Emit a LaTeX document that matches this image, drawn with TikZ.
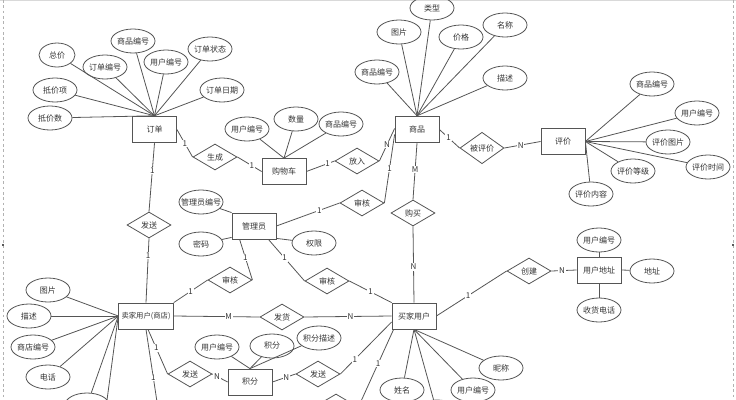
\documentclass[tikz,border=0pt]{standalone}
\usepackage{fontspec}
\setmainfont{Noto Sans CJK SC}
\usetikzlibrary{shapes.geometric,calc}
\definecolor{ln}{HTML}{555555}
\definecolor{tx}{HTML}{333333}
\begin{document}
\begin{tikzpicture}[x=0.75pt,y=-0.75pt,
  every node/.style={font=\fontsize{6}{7}\selectfont, text=tx},
  ent/.style={rectangle, draw=ln, line width=0.6pt, minimum width=33pt, minimum height=19.5pt, inner sep=1pt},
  rel/.style={diamond, draw=ln, line width=0.6pt, minimum width=33pt, minimum height=19.5pt, inner sep=0pt},
  attr/.style={ellipse, draw=ln, line width=0.6pt, minimum width=33pt, minimum height=18pt, inner xsep=-6pt, inner ysep=0pt},
  conn/.style={draw=ln, line width=0.6pt},
  lbl/.style={fill=white, inner sep=0.6pt}]
\useasboundingbox (0,0) rectangle (736,400);
% frame marks
\draw[gray!30] (0,0.5) -- (736,0.5);
\draw[gray!60, dash pattern=on 2pt off 2pt] (3,0) -- (3,400);
\draw[gray!60, dash pattern=on 2pt off 2pt] (733,0) -- (733,400);
\fill[gray!70!black] (2,244) rectangle (4,246);
\fill[gray!70!black] (732,244) rectangle (734,246);

% entities
\node[ent, minimum height=20pt] (dd) at (154.5,129.5) {订单};
\node[ent] (gwc) at (284,171.5) {购物车};
\node[ent, minimum height=20pt] (sp) at (417,129.5) {商品};
\node[ent, minimum height=20pt] (pj) at (563,141.5) {评价};
\node[ent] (gly) at (254,226) {管理员};
\node[ent, minimum width=41pt, inner sep=0pt, font=\fontsize{5.5}{7}\selectfont] (mj) at (146,316) {卖家用户(商店)};
\node[ent] (bj) at (414,316) {买家用户};
\node[ent] (dz) at (599,270) {用户地址};
\node[ent] (jf) at (250,382) {积分};

% relationships
\node[rel] (r1) at (215,157) {生成};
\node[rel] (r2) at (357,161) {放入};
\node[rel] (r3) at (362,203) {审核};
\node[rel] (r4) at (413,213) {购买};
\node[rel] (r5) at (482,148) {被评价};
\node[rel] (r6) at (149,225) {发送};
\node[rel] (r7) at (230,280) {审核};
\node[rel] (r8) at (327,281) {审核};
\node[rel] (r9) at (282,317) {发货};
\node[rel] (r10) at (190,374) {发送};
\node[rel] (r11) at (318,374) {发送};
\node[rel] (r12) at (529,271) {创建};
\node[rel] (r13) at (336,407) {};

% attributes of 订单
\node[attr, minimum width=27pt] (a1) at (57,55) {总价};
\node[attr] (a2) at (133,41) {商品编号};
\node[attr] (a3) at (105,67) {订单编号};
\node[attr] (a4) at (166,62) {用户编号};
\node[attr] (a5) at (210,49) {订单状态};
\node[attr] (a6) at (55,90) {抵价项};
\node[attr] (a7) at (222,90) {订单日期};
\node[attr] (a8) at (50,118) {抵价数};
\foreach \a in {a1,a2,a3,a4,a5,a6,a7,a8} \draw[conn] (\a) -- (dd.north);

% attributes of 购物车
\node[attr] (b1) at (247,129) {用户编号};
\node[attr] (b2) at (296,119) {数量};
\node[attr] (b3) at (341,124) {商品编号};
\foreach \a in {b1,b2,b3} \draw[conn] (\a) -- (gwc.north);

% attributes of 商品
\node[attr] (c1) at (432,8) {类型};
\node[attr] (c2) at (399,32) {图片};
\node[attr] (c3) at (461,37) {价格};
\node[attr] (c4) at (505,25) {名称};
\node[attr] (c5) at (377,72) {商品编号};
\node[attr] (c6) at (505,78) {描述};
\foreach \a in {c1,c2,c3,c4,c5,c6} \draw[conn] (\a) -- (sp.north);

% attributes of 评价
\node[attr] (d1) at (652,84) {商品编号};
\node[attr] (d2) at (697,113) {用户编号};
\node[attr] (d3) at (668,142) {评价图片};
\node[attr] (d4) at (708,167) {评价时间};
\node[attr] (d5) at (633,171) {评价等级};
\node[attr] (d6) at (591,194) {评价内容};
\foreach \a in {d1,d2,d3,d4,d5,d6} \draw[conn] (\a) -- (pj.east);

% attributes of 管理员
\node[attr] (e1) at (201,202) {管理员编号};
\node[attr] (e2) at (201,244) {密码};
\node[attr] (e3) at (314,243) {权限};
\draw[conn] (e1) -- (gly.north west);
\draw[conn] (e2) -- ($(gly.south west)+(0,-2)$);
\draw[conn] (e3) -- ($(gly.south east)+(0,-1)$);

% attributes of 卖家用户
\node[attr] (f1) at (48,290) {图片};
\node[attr] (f2) at (29,316) {描述};
\node[attr] (f3) at (33,347) {商店编号};
\node[attr] (f4) at (48,377) {电话};
\node[attr] (f5) at (87,405) {};
\coordinate (f6) at (105,415);
\foreach \a in {f1,f2,f3,f4,f5,f6} \draw[conn] (\a) -- (mj.west);

% attributes of 积分
\node[attr] (g1) at (217,347) {用户编号};
\node[attr] (g2) at (272,346) {积分};
\node[attr] (g3) at (319,338) {积分描述};
\foreach \a in {g1,g2,g3} \draw[conn] (\a) -- (jf.north);

% attributes of 买家用户
\node[attr] (h1) at (501,368) {昵称};
\node[attr] (h2) at (473,390) {用户编号};
\node[attr] (h3) at (402,390) {姓名};
\node[attr] (h4) at (437,412) {};
\foreach \a in {h1,h2,h3,h4} \draw[conn] (\a) -- (bj.south);

% attributes of 用户地址
\node[attr] (i1) at (599,240) {用户编号};
\node[attr] (i2) at (652,271) {地址};
\node[attr] (i3) at (599,310) {收货电话};
\draw[conn] (i1) -- (dz.north);
\draw[conn] (i2) -- (dz.east);
\draw[conn] (i3) -- (dz.south);

% relationship connectors
\draw[conn] (dd.east) -- node[lbl, pos=0.5] {1} (r1.west);
\draw[conn] (r1.east) -- node[lbl, pos=0.6] {1} (gwc.west);
\draw[conn] (gwc.east) -- node[lbl, pos=0.75] {1} (r2.west);
\draw[conn] (r2.east) -- node[lbl, pos=0.5] {N} ($(sp.west)+(0,-1)$);
\draw[conn] (gly.east) -- node[lbl, pos=0.68] {1} (r3.west);
\draw[conn] (r3.east) -- node[lbl, pos=0.5] {1} ($(sp.west)+(0,5)$);
\draw[conn] (sp.south) -- node[lbl, pos=0.47] {M} (r4.north);
\draw[conn] (r4.south) -- node[lbl, pos=0.53] {N} (bj.north);
\draw[conn] (sp.east) -- node[lbl, pos=0.45] {1} (r5.west);
\draw[conn] (r5.east) -- node[lbl, pos=0.45] {N} (pj.west);
\draw[conn] (dd.south) -- node[lbl, pos=0.4] {1} (r6.north);
\draw[conn] (r6.south) -- node[lbl, pos=0.27] {1} (mj.north);
\draw[conn] ($(gly.south west)+(8,0)$) -- node[lbl, pos=0.45] {1} (r7.east);
\draw[conn] (r7.west) -- node[lbl, pos=0.5] {1} (mj.north east);
\draw[conn] ($(gly.south east)+(-8,0)$) -- node[lbl, pos=0.45] {1} (r8.west);
\draw[conn] (r8.east) -- node[lbl, pos=0.5] {1} (bj.north west);
\draw[conn] (mj.east) -- node[lbl, pos=0.64] {M} (r9.west);
\draw[conn] (r9.east) -- node[lbl, pos=0.53] {N} (bj.west);
\draw[conn] ($(mj.south)+(2,0)$) -- node[lbl, pos=0.42] {1} (r10.west);
\draw[conn] (r10.east) -- node[lbl, pos=0.3] {N} (jf.west);
\draw[conn] (jf.east) -- node[lbl, pos=0.6] {N} (r11.west);
\draw[conn] (r11.east) -- node[lbl, pos=0.28] {1} ($(bj.west)+(0,6)$);
\draw[conn] ($(bj.south west)+(2,0)$) -- node[lbl, pos=0.44] {1} (r13.east);
\draw[conn] (bj.east) -- node[lbl, pos=0.45] {1} (r12.west);
\draw[conn] (r12.east) -- node[lbl, pos=0.42] {N} (dz.west);
\coordinate (mjdown) at (159,415);
\draw[conn] (mj.south) -- node[lbl, pos=0.56] {1} (mjdown);
\end{tikzpicture}
\end{document}
